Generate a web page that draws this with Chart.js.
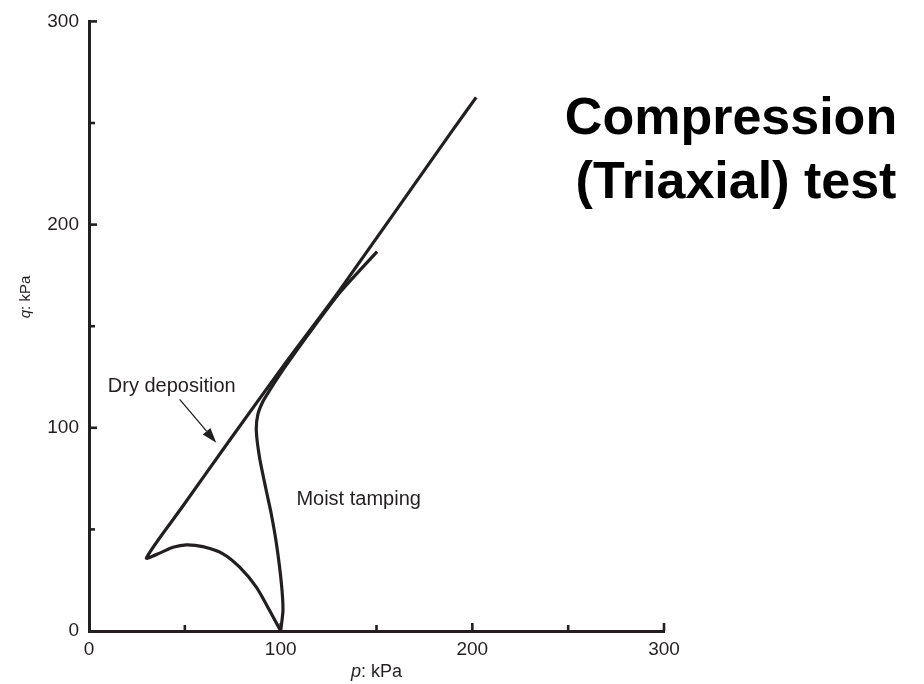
<!DOCTYPE html>
<html>
<head>
<meta charset="utf-8">
<script src="https://cdn.jsdelivr.net/npm/chart.js@4.4.1/dist/chart.umd.min.js"></script>
<style>
  html, body { margin: 0; padding: 0; background: #fff; }
  #stressChart { display: block; }
</style>
</head>
<body>
<canvas id="stressChart" width="924" height="684"></canvas>
<script>
// p (kPa) and q (kPa)
const dryP = [100, 94.3, 87.3, 78.6, 69.9, 59.4, 50.8, 43.8, 37.7, 30, 49, 73, 103, 131, 189, 202];
const dryQ = [0, 10, 21.6, 31.4, 38, 41.5, 42.4, 41.2, 38.7, 36, 61.5, 93.4, 132.5, 168, 245.5, 262.6];

const moistP = [100, 101.2, 100.4, 97.8, 95.1, 92.5, 89, 87.3, 88.1, 90.8, 94.3, 101.2, 116, 130.8, 150.3];
const moistQ = [0, 10.1, 23.2, 42.9, 57.6, 69, 85.3, 98.4, 106.6, 113.1, 118.5, 128.5, 148, 166.5, 186.7];

const axisTicks = [0, 50, 100, 150, 200, 250, 300];
const labelTicks = [0, 100, 200, 300];

const ink = '#231f20';
const fontFamily = '"Liberation Sans", Arial, Helvetica, sans-serif';

function toPoints(xs, ys) {
    return xs.map((x, i) => ({ x: x, y: ys[i] }));
}

// inward ticks, labels, arrow and title
const decorations = {
    id: 'decorations',
    afterDraw(chart) {
        const ctx = chart.ctx;
        const xs = chart.scales.x;
        const ys = chart.scales.y;
        const area = chart.chartArea;

        ctx.save();
        ctx.strokeStyle = ink;
        ctx.fillStyle = ink;
        ctx.lineWidth = 2.6;
        ctx.lineCap = 'butt';

        axisTicks.forEach(v => {
            if (v === 0) return;
            const len = v % 100 === 0 ? 8 : 6;
            const px = xs.getPixelForValue(v);
            ctx.beginPath();
            ctx.moveTo(px, area.bottom);
            ctx.lineTo(px, area.bottom - len);
            ctx.stroke();

            const py = ys.getPixelForValue(v);
            ctx.beginPath();
            ctx.moveTo(area.left, py);
            ctx.lineTo(area.left + len, py);
            ctx.stroke();
        });

        // arrow pointing at the dry deposition path
        const ax0 = xs.getPixelForValue(47.3), ay0 = ys.getPixelForValue(114);
        const ax1 = xs.getPixelForValue(66.4), ay1 = ys.getPixelForValue(92.7);
        const ang = Math.atan2(ay1 - ay0, ax1 - ax0);
        const headLen = 15, headW = 5;
        const bx = ax1 - headLen * Math.cos(ang), by = ay1 - headLen * Math.sin(ang);
        ctx.lineWidth = 1.3;
        ctx.beginPath();
        ctx.moveTo(ax0, ay0);
        ctx.lineTo(bx, by);
        ctx.stroke();
        ctx.beginPath();
        ctx.moveTo(ax1, ay1);
        ctx.lineTo(bx + headW * Math.sin(ang), by - headW * Math.cos(ang));
        ctx.lineTo(bx - headW * Math.sin(ang), by + headW * Math.cos(ang));
        ctx.closePath();
        ctx.fill();

        // curve labels
        ctx.font = '20px ' + fontFamily;
        ctx.textAlign = 'left';
        ctx.textBaseline = 'alphabetic';
        ctx.fillText('Dry deposition', xs.getPixelForValue(9.8), ys.getPixelForValue(117.7));
        ctx.fillText('Moist tamping', xs.getPixelForValue(108.2), ys.getPixelForValue(62.1));

        // x axis title: "p: kPa" with italic p
        ctx.font = 'italic 18px ' + fontFamily;
        const pW = ctx.measureText('p').width;
        ctx.font = '18px ' + fontFamily;
        const restW = ctx.measureText(': kPa').width;
        let tx = (area.left + area.right) / 2 - (pW + restW) / 2;
        ctx.font = 'italic 18px ' + fontFamily;
        ctx.fillText('p', tx, 677);
        ctx.font = '18px ' + fontFamily;
        ctx.fillText(': kPa', tx + pW, 677);

        // y axis title: "q: kPa" rotated
        ctx.save();
        ctx.translate(26, 297);
        ctx.rotate(-Math.PI / 2);
        ctx.textBaseline = 'middle';
        ctx.font = 'italic 15px ' + fontFamily;
        const qW = ctx.measureText('q').width;
        ctx.font = '15px ' + fontFamily;
        const restQ = ctx.measureText(': kPa').width;
        const qx = -(qW + restQ) / 2;
        ctx.font = 'italic 15px ' + fontFamily;
        ctx.fillText('q', qx, 0);
        ctx.font = '15px ' + fontFamily;
        ctx.fillText(': kPa', qx + qW, 0);
        ctx.restore();

        // big title
        ctx.font = 'bold 52px ' + fontFamily;
        ctx.textAlign = 'center';
        ctx.fillStyle = '#000';
        ctx.fillText('Compression', 731, 134);
        ctx.fillText('(Triaxial) test', 736, 198);

        ctx.restore();
    }
};

function initChart() {
    const ctx = document.getElementById('stressChart').getContext('2d');
    const lineStyle = {
        showLine: true,
        borderColor: ink,
        borderWidth: 3.2,
        pointRadius: 0,
        fill: false
    };

    new Chart(ctx, {
        type: 'scatter',
        data: {
            datasets: [
                Object.assign({ label: 'Dry deposition', data: toPoints(dryP, dryQ), tension: 0.25 }, lineStyle),
                Object.assign({ label: 'Moist tamping', data: toPoints(moistP, moistQ), tension: 0.2 }, lineStyle)
            ]
        },
        options: {
            responsive: false,
            animation: false,
            devicePixelRatio: 1,
            layout: { padding: { top: 19, right: 260, bottom: 0, left: 0 } },
            plugins: {
                legend: { display: false },
                tooltip: { enabled: false }
            },
            scales: {
                x: {
                    type: 'linear',
                    min: 0,
                    max: 300,
                    afterBuildTicks: s => { s.ticks = axisTicks.map(v => ({ value: v })); },
                    afterFit: s => { s.height = 53; },
                    ticks: {
                        autoSkip: false,
                        maxRotation: 0,
                        padding: 7,
                        color: ink,
                        font: { family: fontFamily, size: 19 },
                        callback: v => labelTicks.includes(v) ? v : ''
                    },
                    grid: { drawOnChartArea: false, drawTicks: false },
                    border: { width: 3, color: ink }
                },
                y: {
                    type: 'linear',
                    min: 0,
                    max: 300,
                    afterBuildTicks: s => { s.ticks = axisTicks.map(v => ({ value: v })); },
                    afterFit: s => { s.width = 89; },
                    ticks: {
                        autoSkip: false,
                        padding: 10,
                        color: ink,
                        font: { family: fontFamily, size: 19 },
                        callback: v => labelTicks.includes(v) ? v : ''
                    },
                    grid: { drawOnChartArea: false, drawTicks: false },
                    border: { width: 3, color: ink }
                }
            }
        },
        plugins: [decorations]
    });
}

document.addEventListener('DOMContentLoaded', initChart);
</script>
</body>
</html>
